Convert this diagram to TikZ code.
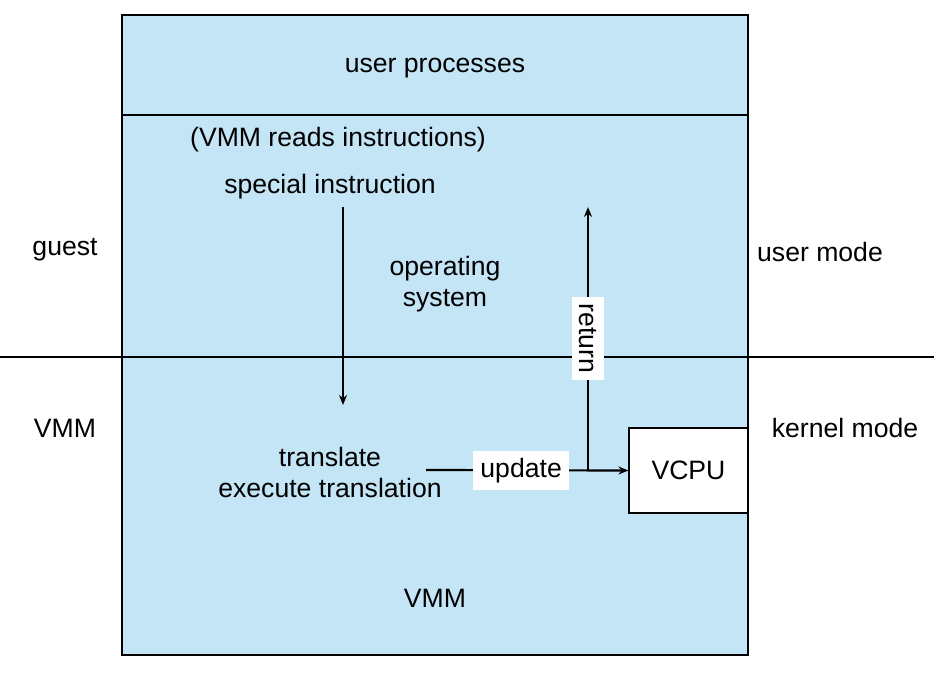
\documentclass[tikz,border=0pt]{standalone}
\usepackage{fontspec}
\setmainfont{Liberation Sans}
\usetikzlibrary{positioning,arrows.meta}
\definecolor{vmblue}{HTML}{C3E5F6}

\begin{document}
\begin{tikzpicture}[x=0.5pt,y=-0.5pt,>={Stealth[length=5pt,width=4pt]},thick,
    every node/.style={font=\fontsize{13.3}{15.5}\selectfont},
    label box/.style={fill=white,inner sep=3.5pt},
    arrow/.style={->,line width=1.1pt}]

                \useasboundingbox (0,0) rectangle (934,685);
                \draw[fill=vmblue,line width=0.6pt] (122,15) rectangle (748,655);
                \draw[line width=0.6pt] (122,115) -- (748,115);
                \draw[line width=1.3pt] (0,357) -- (934,357);
                \node[draw,fill=white,line width=0.6pt,minimum width=59.5pt,minimum height=42.5pt] (vcpu) at (688.5,470.5) {VCPU};

                \node (user)    at (435,68)  {user processes};
                \node (reads)   at (338,140) {(VMM reads instructions)};
                \node (special) at (330,187) {special instruction};
                \node (os)      at (445,284) [align=center] {operating\\system};
                \node (trans)   at (330,472) [align=center] {translate\\execute translation};
                \node (vmm)     at (435,598) {VMM};
                \node (guest)   at (65,250)  {guest};
                \node (vmmside) at (65,428)  {VMM};
                \node (umode)   at (820,252) {user mode};
                \node (kmode)   at (845,428) {kernel mode};

                \coordinate (split) at (588,470);
                \coordinate (top)   at (588,207);
                \coordinate (down)  at (343,405);
                \coordinate (start) at (426,470);

                \draw[arrow] (343,207) -- (down);
                \draw[arrow] (start) -- node[label box,pos=0.47] {update} (vcpu.west);
                \draw[arrow] (split) -- node[label box,rotate=-90] {return} (top);
            \end{tikzpicture}
\end{document}
